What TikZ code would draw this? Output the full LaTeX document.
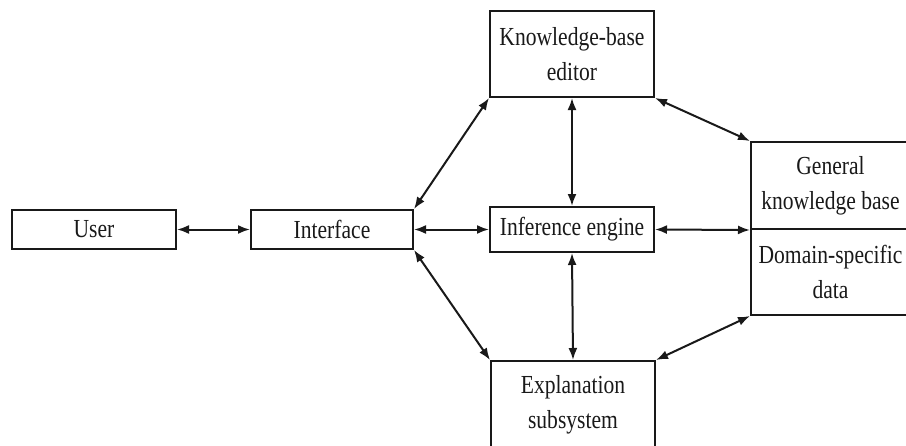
\documentclass[tikz,border=0pt]{standalone}
\usepackage{fontspec}
\setmainfont{Liberation Serif}[FakeStretch=0.83]
\usetikzlibrary{arrows.meta}
\begin{document}
\begin{tikzpicture}[x=1pt,y=-1pt,
  box/.style={draw=black!90,line width=2pt,inner sep=0pt,align=center,
    font={\fontsize{26}{35}\selectfont},text=black!90},
  link/.style={{Latex[length=12pt,width=9pt]}-{Latex[length=12pt,width=9pt]},line width=2pt,draw=black!90}]
\useasboundingbox (0,0) rectangle (906,445);
\clip (0,0) rectangle (906,445);
\node[box,minimum width=164pt,minimum height=39pt] (user) at (94,229.5) {User};
\node[box,minimum width=162pt,minimum height=39pt] (intf) at (332,229.5) {Interface};
\node[box,minimum width=164pt,minimum height=86pt] (kb) at (572,54) {Knowledge-base\\editor};
\node[box,minimum width=164pt,minimum height=45pt] (inf) at (572,229.5) {Inference engine};
\node[box,minimum width=164pt,minimum height=88pt] (expl) at (573,405) {Explanation\\subsystem};
\node[box,minimum width=159pt,minimum height=87pt] (gkb) at (830.5,185.5) {General\\knowledge base};
\node[box,minimum width=159pt,minimum height=86pt] (dsd) at (830.5,272) {Domain-specific\\data};
\draw[link] (user) -- (intf);
\draw[link] (intf.east) -- (inf.west);
\draw[link] (intf.north east) -- (kb.south west);
\draw[link] (intf.south east) -- (expl.north west);
\draw[link] (kb.south) -- (inf.north);
\draw[link] (inf.south) -- (expl.north);
\draw[link] (kb.south east) -- (gkb.north west);
\draw[link] (inf.east) -- (gkb.south west);
\draw[link] (expl.north east) -- (dsd.south west);
\end{tikzpicture}
\end{document}
